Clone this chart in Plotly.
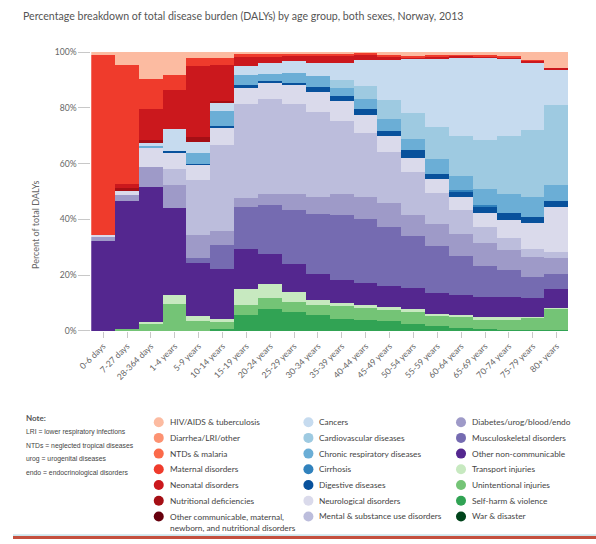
import plotly.graph_objects as go

W, H = 596, 544

age_groups = ["0-6 days", "7-27 days", "28-364 days", "1-4 years", "5-9 years",
              "10-14 years", "15-19 years", "20-24 years", "25-29 years", "30-34 years",
              "35-39 years", "40-44 years", "45-49 years", "50-54 years", "55-59 years",
              "60-64 years", "65-69 years", "70-74 years", "75-79 years", "80+ years"]

y_tick_values = [0, 20, 40, 60, 80, 100]
y_tick_labels = ["0%", "20%", "40%", "60%", "80%", "100%"]

# percent of total DALYs, per cause, per age group
war_disaster      = [0]*20
self_harm         = [0, 0, 0, 0, 0, 0.5, 5.8, 7.9, 6.7, 5.5, 4.3, 3.8, 3.4, 2.6, 1.6, 1.1, 0.6, 0.4, 0.3, 0.2]
unintentional     = [0, 0.5, 2.6, 9.6, 3.5, 2.5, 3.3, 3.8, 3.8, 3.8, 4.5, 4.3, 3.9, 4.1, 3.9, 3.9, 3.5, 3.8, 4.3, 7.7]
transport         = [0, 0, 0.7, 3.3, 1.8, 1.2, 5.9, 5.0, 3.3, 1.9, 1.2, 1.2, 1.4, 1.2, 0.6, 0.6, 0.7, 0.6, 0.4, 0.1]
other_ncd         = [32.3, 45.9, 48.2, 31.3, 19.0, 18.1, 14.4, 10.9, 10.0, 9.0, 8.2, 8.0, 7.4, 7.6, 7.6, 7.3, 7.2, 7.3, 6.9, 7.0]
musculoskeletal   = [0, 0, 0, 0, 1.8, 8.6, 15.1, 17.6, 19.4, 21.7, 23.5, 22.9, 21.1, 18.5, 16.7, 14.1, 11.4, 9.7, 7.4, 5.3]
diabetes          = [1.2, 2.3, 7.4, 8.0, 8.2, 4.9, 3.3, 3.8, 5.9, 6.2, 7.3, 7.9, 8.5, 7.6, 8.0, 7.7, 8.0, 7.3, 7.0, 5.9]
mental            = [0, 0, 0, 5.9, 19.7, 30.9, 33.5, 34.0, 32.3, 30.5, 26.2, 22.7, 18.5, 15.3, 11.2, 8.5, 5.9, 4.1, 2.9, 2.0]
neurological      = [1.0, 1.4, 6.5, 5.9, 5.5, 6.1, 6.1, 5.9, 6.7, 7.0, 7.3, 6.7, 5.6, 4.9, 4.7, 4.7, 4.9, 6.7, 9.4, 16.2]
digestive         = [0, 0, 0, 0.5, 0.4, 0.5, 0.6, 0.8, 0.9, 1.8, 1.8, 1.9, 2.0, 2.9, 1.8, 1.8, 2.1, 2.3, 2.3, 2.3]
cirrhosis         = [0, 0, 0, 0, 0, 0, 0, 0, 0, 0, 0, 0, 0, 0, 0, 0.8, 0.9, 0, 0, 0]
chronic_resp      = [0, 0, 0.8, 0, 3.8, 5.4, 3.9, 2.5, 3.5, 4.0, 2.9, 3.8, 4.3, 4.1, 5.6, 5.0, 5.5, 7.0, 7.0, 5.6]
cardiovascular    = [0, 0, 0, 0, 0, 0, 0, 0, 0, 0, 2.9, 4.7, 6.8, 9.4, 11.4, 14.4, 17.6, 20.7, 24.3, 28.6]
cancers           = [0, 0, 1.2, 8.0, 4.1, 3.1, 3.2, 4.0, 4.1, 4.5, 6.1, 9.2, 14.1, 19.4, 24.6, 28.2, 29.7, 27.8, 24.2, 13.0]
other_communic    = [0]*20
nutritional       = [0, 1.2, 1.2, 0, 1.8, 0.8, 0, 0, 0, 0, 0, 0, 0, 0, 0, 0, 0, 0, 0, 0]
neonatal          = [0, 1.5, 10.9, 13.7, 25.5, 12.7, 3.1, 2.1, 2.0, 2.6, 2.3, 2.0, 1.4, 0.5, 0.6, 0.5, 0.5, 0.4, 0.5, 0.5]
maternal          = [64.4, 42.7, 10.8, 5.6, 2.7, 2.6, 1.4, 0.9, 0.9, 0.9, 0.9, 0.6, 0.7, 0.5, 0.6, 0.5, 0.4, 0.3, 0.4, 0]
ntds_malaria      = [0]*20
diarrhea_lri      = [0]*20
hiv_tb            = [1.0, 4.5, 9.7, 8.2, 2.3, 2.3, 0.6, 0.8, 0.6, 0.6, 0.6, 0.6, 0.8, 1.3, 1.2, 1.0, 1.2, 1.8, 2.7, 5.6]

# legend columns (top to bottom): name, values, colour
legend_cols = [
    [("HIV/AIDS & tuberculosis", hiv_tb, "#fcbba1"),
     ("Diarrhea/LRI/other", diarrhea_lri, "#fc9272"),
     ("NTDs & malaria", ntds_malaria, "#fb6a4a"),
     ("Maternal disorders", maternal, "#ef3b2c"),
     ("Neonatal disorders", neonatal, "#cb181d"),
     ("Nutritional deficiencies", nutritional, "#a50f15"),
     ("Other communicable, maternal,<br>newborn, and nutritional disorders", other_communic, "#67000d")],
    [("Cancers", cancers, "#c6dbef"),
     ("Cardiovascular diseases", cardiovascular, "#9ecae1"),
     ("Chronic respiratory diseases", chronic_resp, "#6baed6"),
     ("Cirrhosis", cirrhosis, "#3182bd"),
     ("Digestive diseases", digestive, "#08519c"),
     ("Neurological disorders", neurological, "#dadaeb"),
     ("Mental & substance use disorders", mental, "#bcbddc")],
    [("Diabetes/urog/blood/endo", diabetes, "#9e9ac8"),
     ("Musculoskeletal disorders", musculoskeletal, "#756bb1"),
     ("Other non-communicable", other_ncd, "#54278f"),
     ("Transport injuries", transport, "#c7e9c0"),
     ("Unintentional injuries", unintentional, "#74c476"),
     ("Self-harm & violence", self_harm, "#31a354"),
     ("War & disaster", war_disaster, "#00441b")],
]

all_items = [it for col in legend_cols for it in col]
stack_order = list(reversed(all_items))  # bottom of stack = War & disaster

FONT = "Lato, Liberation Sans, Arial, sans-serif"
fig = go.Figure()
for name, vals, col in stack_order:
    fig.add_bar(x=age_groups, y=vals, name=name.replace("<br>", " "),
                marker=dict(color=col, line=dict(width=0)), showlegend=False,
                xaxis="x", yaxis="y")

# manual legend (dots on a hidden pixel-space axis)
col_x = [149, 302, 458]
row_y0, row_dy = 425, 16
lx, ly, lc = [], [], []
annotations = []
for ci, col in enumerate(legend_cols):
    for ri, (name, vals, c) in enumerate(col):
        y = row_y0 + ri * row_dy
        lx.append(col_x[ci]); ly.append(y); lc.append(c)
        multi = "<br>" in name
        annotations.append(dict(xref="x2", yref="y2", x=col_x[ci] + 9, y=(y - 6.5) if multi else y,
                                text=name, showarrow=False, xanchor="left",
                                yanchor="top" if multi else "middle", align="left",
                                font=dict(family=FONT, size=8.3, color="#444")))
fig.add_scatter(x=lx, y=ly, mode="markers", xaxis="x2", yaxis="y2", showlegend=False,
                marker=dict(size=10, color=lc, line=dict(width=0)), hoverinfo="skip")

# title, y-axis title, note
annotations.append(dict(xref="paper", yref="paper", x=8 / W, y=1 - 11 / H, xanchor="left", yanchor="middle",
                        showarrow=False,
                        text="Percentage breakdown of total disease burden (DALYs) by age group, both sexes, Norway, 2013",
                        font=dict(family=FONT, size=10.6, color="#555")))
annotations.append(dict(xref="paper", yref="paper", x=16 / W, y=1 - 177 / H, textangle=-90,
                        showarrow=False, text="Percent of total DALYs",
                        font=dict(family=FONT, size=9, color="#666")))
annotations.append(dict(xref="x2", yref="y2", x=11, y=421, xanchor="left", yanchor="middle", showarrow=False,
                        text="<b>Note:</b>", font=dict(family=FONT, size=8, color="#555")))
notes = ["LRI = lower respiratory infections", "NTDs = neglected tropical diseases",
         "urog = urogenital diseases", "endo = endocrinological disorders"]
for i, t in enumerate(notes):
    annotations.append(dict(xref="x2", yref="y2", x=11, y=435 + i * 13.8, xanchor="left", yanchor="middle",
                            showarrow=False, text=t,
                            font=dict(family="Liberation Sans Narrow, Liberation Sans, Arial", size=6.8, color="#444")))

shapes = [
    dict(type="line", xref="paper", yref="paper", x0=0, x1=1, y0=1 - 540 / H, y1=1 - 540 / H,
         line=dict(color="#a9d3df", width=1)),
    dict(type="rect", xref="paper", yref="paper", x0=0, x1=1, y0=0, y1=3 / H,
         fillcolor="#c4503f", line=dict(width=0)),
]

tick_font = dict(family=FONT, size=8.6, color="#666")
fig.update_layout(
    width=W, height=H, margin=dict(l=0, r=0, t=0, b=0),
    paper_bgcolor="white", plot_bgcolor="white",
    barmode="stack", bargap=0,
    xaxis=dict(domain=[80 / W, 568 / W], type="category", tickangle=-45, ticks="outside",
               ticklen=6, tickcolor="#c8c8c8", tickfont=tick_font, showgrid=False,
               showline=False, zeroline=False, anchor="y"),
    yaxis=dict(domain=[212 / H, 496 / H], range=[0, 100], tickmode="array",
               tickvals=y_tick_values, ticktext=y_tick_labels, ticks="outside", ticklen=12,
               tickcolor="#c8c8c8", tickfont=tick_font, showgrid=False, zeroline=False,
               showline=False, anchor="x"),
    xaxis2=dict(domain=[0, 1], range=[0, W], visible=False, anchor="y2", fixedrange=True),
    yaxis2=dict(domain=[0, 134 / H], range=[544, 410], visible=False, anchor="x2", fixedrange=True),
    annotations=annotations, shapes=shapes,
)

fig.write_html("out.html", config={"displayModeBar": False},
               post_script="document.body.style.margin='0px';document.body.style.overflow='hidden';")
